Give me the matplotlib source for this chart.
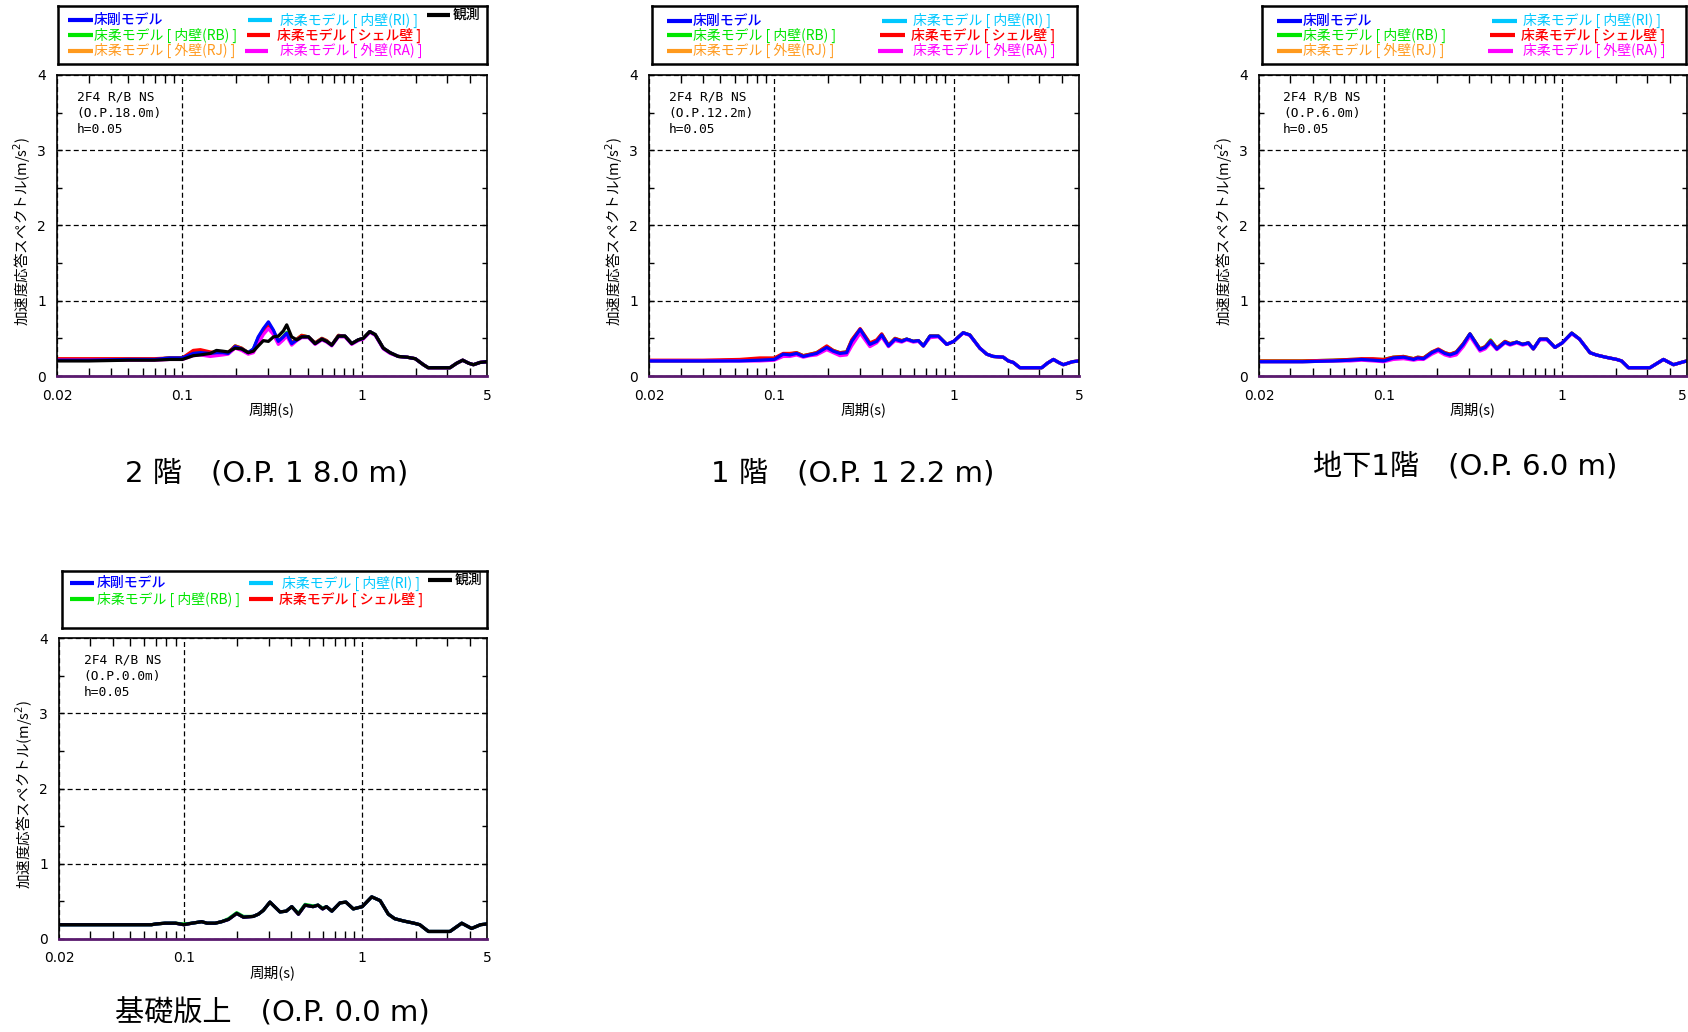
import matplotlib.pyplot as plt
from matplotlib.ticker import FixedLocator, NullFormatter

plt.rcParams['font.family'] = ['Noto Sans CJK JP', 'DejaVu Sans']

BLUE = '#0000ff'
CYAN = '#00c8ff'
GREEN = '#00e600'
RED = '#ff0000'
ORANGE = '#ff9a1e'
MAGENTA = '#ff00ff'
BLACK = '#000000'

# ---- 2F (O.P.18.0m) ----
T1 = [0.02, 0.03, 0.05, 0.07, 0.085, 0.1, 0.115, 0.126, 0.143, 0.155,
      0.168, 0.18, 0.197, 0.214, 0.233, 0.249, 0.265, 0.283, 0.302, 0.322,
      0.343, 0.366, 0.382, 0.407, 0.435, 0.463, 0.505, 0.55, 0.6, 0.638,
      0.681, 0.742, 0.807, 0.88, 0.957, 1.02, 1.11, 1.19, 1.32, 1.44,
      1.6, 1.79, 1.99, 2.07, 2.21, 2.35, 3.11, 3.39, 3.66, 3.95,
      4.2, 4.57, 5.0]
blue1 = [0.21, 0.21, 0.22, 0.22, 0.24, 0.24, 0.30, 0.31, 0.30, 0.31,
         0.31, 0.30, 0.39, 0.36, 0.31, 0.36, 0.52, 0.63, 0.72, 0.61,
         0.46, 0.52, 0.57, 0.43, 0.48, 0.52, 0.52, 0.43, 0.49, 0.46,
         0.41, 0.53, 0.53, 0.43, 0.48, 0.50, 0.59, 0.55, 0.37, 0.31,
         0.26, 0.25, 0.23, 0.20, 0.15, 0.11, 0.11, 0.17, 0.21, 0.17,
         0.15, 0.18, 0.19]
cyan1 = [0.21, 0.21, 0.22, 0.22, 0.24, 0.24, 0.30, 0.31, 0.30, 0.31,
         0.31, 0.30, 0.39, 0.36, 0.31, 0.36, 0.51, 0.62, 0.70, 0.60,
         0.46, 0.52, 0.57, 0.43, 0.48, 0.52, 0.52, 0.43, 0.49, 0.46,
         0.41, 0.53, 0.53, 0.43, 0.48, 0.50, 0.59, 0.55, 0.37, 0.31,
         0.26, 0.25, 0.23, 0.20, 0.15, 0.11, 0.11, 0.17, 0.21, 0.17,
         0.15, 0.18, 0.19]
green1 = [0.22, 0.22, 0.22, 0.22, 0.24, 0.24, 0.31, 0.33, 0.31, 0.31,
          0.31, 0.31, 0.40, 0.37, 0.31, 0.35, 0.50, 0.61, 0.67, 0.59,
          0.46, 0.53, 0.58, 0.44, 0.49, 0.54, 0.52, 0.44, 0.50, 0.47,
          0.41, 0.54, 0.53, 0.43, 0.48, 0.50, 0.59, 0.55, 0.37, 0.31,
          0.26, 0.25, 0.23, 0.20, 0.15, 0.11, 0.11, 0.17, 0.21, 0.17,
          0.15, 0.18, 0.19]
red1 = [0.23, 0.23, 0.23, 0.23, 0.24, 0.24, 0.34, 0.35, 0.32, 0.31,
        0.31, 0.31, 0.40, 0.37, 0.31, 0.35, 0.49, 0.60, 0.68, 0.59,
        0.46, 0.52, 0.56, 0.44, 0.49, 0.54, 0.52, 0.44, 0.50, 0.47,
        0.41, 0.54, 0.53, 0.43, 0.48, 0.50, 0.59, 0.55, 0.37, 0.31,
        0.26, 0.25, 0.23, 0.20, 0.15, 0.11, 0.11, 0.17, 0.21, 0.17,
        0.15, 0.18, 0.19]
orange1 = [0.22, 0.22, 0.22, 0.22, 0.24, 0.24, 0.31, 0.32, 0.30, 0.30,
           0.31, 0.30, 0.38, 0.36, 0.31, 0.34, 0.48, 0.60, 0.66, 0.58,
           0.45, 0.52, 0.56, 0.43, 0.48, 0.52, 0.52, 0.43, 0.49, 0.46,
           0.41, 0.53, 0.53, 0.43, 0.48, 0.50, 0.59, 0.55, 0.37, 0.31,
           0.26, 0.25, 0.23, 0.20, 0.15, 0.11, 0.11, 0.17, 0.21, 0.17,
           0.15, 0.18, 0.19]
magenta1 = [0.21, 0.21, 0.21, 0.21, 0.22, 0.22, 0.27, 0.28, 0.26, 0.27,
            0.28, 0.29, 0.37, 0.34, 0.29, 0.31, 0.43, 0.55, 0.63, 0.55,
            0.42, 0.48, 0.53, 0.41, 0.47, 0.51, 0.51, 0.42, 0.48, 0.45,
            0.40, 0.52, 0.52, 0.42, 0.47, 0.49, 0.58, 0.54, 0.36, 0.30,
            0.26, 0.25, 0.23, 0.20, 0.15, 0.11, 0.11, 0.17, 0.21, 0.17,
            0.15, 0.18, 0.19]
obs1 = [0.20, 0.20, 0.21, 0.21, 0.22, 0.22, 0.27, 0.28, 0.30, 0.34,
        0.33, 0.32, 0.37, 0.36, 0.31, 0.33, 0.40, 0.47, 0.46, 0.52,
        0.53, 0.60, 0.68, 0.52, 0.48, 0.52, 0.52, 0.43, 0.49, 0.46,
        0.41, 0.53, 0.53, 0.43, 0.48, 0.50, 0.59, 0.55, 0.37, 0.31,
        0.26, 0.25, 0.23, 0.20, 0.15, 0.11, 0.11, 0.17, 0.21, 0.17,
        0.15, 0.18, 0.19]

# ---- 1F (O.P.12.2m) ----
T2 = [0.02, 0.04, 0.064, 0.083, 0.1, 0.112, 0.122, 0.133, 0.145, 0.158,
      0.172, 0.196, 0.213, 0.232, 0.253, 0.27, 0.301, 0.341, 0.372, 0.397,
      0.433, 0.471, 0.513, 0.547, 0.596, 0.636, 0.678, 0.738, 0.822, 0.915,
      1.0, 1.13, 1.23, 1.4, 1.53, 1.66, 1.89, 2.02, 2.15, 2.34,
      3.1, 3.33, 3.6, 3.85, 4.09, 4.6, 5.0]
blue2 = [0.20, 0.20, 0.20, 0.21, 0.22, 0.29, 0.28, 0.30, 0.26, 0.28,
         0.30, 0.38, 0.33, 0.30, 0.31, 0.46, 0.62, 0.42, 0.46, 0.545,
         0.40, 0.49, 0.46, 0.49, 0.46, 0.47, 0.40, 0.53, 0.53, 0.42,
         0.46, 0.575, 0.545, 0.37, 0.29, 0.26, 0.25, 0.20, 0.18, 0.11,
         0.11, 0.17, 0.22, 0.18, 0.15, 0.19, 0.20]
cyan2 = [0.20, 0.20, 0.21, 0.22, 0.22, 0.29, 0.28, 0.30, 0.26, 0.28,
         0.30, 0.38, 0.33, 0.30, 0.31, 0.46, 0.61, 0.42, 0.46, 0.545,
         0.40, 0.49, 0.46, 0.49, 0.46, 0.47, 0.40, 0.53, 0.53, 0.42,
         0.46, 0.575, 0.545, 0.37, 0.29, 0.26, 0.25, 0.20, 0.18, 0.11,
         0.11, 0.17, 0.22, 0.18, 0.15, 0.19, 0.20]
green2 = [0.20, 0.20, 0.21, 0.23, 0.23, 0.29, 0.29, 0.31, 0.27, 0.29,
          0.31, 0.39, 0.34, 0.31, 0.32, 0.47, 0.62, 0.43, 0.47, 0.555,
          0.41, 0.50, 0.47, 0.49, 0.46, 0.47, 0.40, 0.53, 0.53, 0.42,
          0.46, 0.575, 0.545, 0.37, 0.29, 0.26, 0.25, 0.20, 0.18, 0.11,
          0.11, 0.17, 0.22, 0.18, 0.15, 0.19, 0.20]
red2 = [0.21, 0.21, 0.22, 0.24, 0.24, 0.30, 0.30, 0.31, 0.27, 0.29,
        0.31, 0.40, 0.34, 0.31, 0.32, 0.48, 0.63, 0.44, 0.48, 0.56,
        0.41, 0.50, 0.47, 0.49, 0.46, 0.47, 0.40, 0.53, 0.53, 0.42,
        0.46, 0.575, 0.545, 0.37, 0.29, 0.26, 0.25, 0.20, 0.18, 0.11,
        0.11, 0.17, 0.22, 0.18, 0.15, 0.19, 0.20]
orange2 = [0.20, 0.20, 0.21, 0.22, 0.23, 0.29, 0.29, 0.30, 0.27, 0.28,
           0.30, 0.38, 0.33, 0.30, 0.31, 0.45, 0.61, 0.42, 0.46, 0.54,
           0.40, 0.49, 0.46, 0.49, 0.46, 0.47, 0.40, 0.53, 0.53, 0.42,
           0.46, 0.575, 0.545, 0.37, 0.29, 0.26, 0.25, 0.20, 0.18, 0.11,
           0.11, 0.17, 0.22, 0.18, 0.15, 0.19, 0.20]
magenta2 = [0.20, 0.20, 0.20, 0.20, 0.21, 0.26, 0.26, 0.28, 0.25, 0.27,
            0.28, 0.35, 0.31, 0.27, 0.28, 0.40, 0.57, 0.39, 0.44, 0.52,
            0.39, 0.47, 0.45, 0.48, 0.45, 0.46, 0.40, 0.51, 0.52, 0.42,
            0.46, 0.57, 0.54, 0.37, 0.29, 0.26, 0.25, 0.20, 0.18, 0.11,
            0.11, 0.17, 0.22, 0.18, 0.15, 0.19, 0.20]

# ---- B1F (O.P.6.0m) ----
T3 = [0.02, 0.035, 0.052, 0.065, 0.075, 0.087, 0.1, 0.113, 0.129, 0.147,
      0.155, 0.167, 0.186, 0.202, 0.22, 0.235, 0.255, 0.279, 0.304, 0.346,
      0.37, 0.397, 0.43, 0.478, 0.51, 0.556, 0.6, 0.646, 0.689, 0.75,
      0.82, 0.91, 1.0, 1.13, 1.25, 1.43, 1.55, 1.75, 2.02, 2.15,
      2.35, 3.1, 3.69, 4.2, 4.8, 5.0]
blue3 = [0.19, 0.19, 0.20, 0.21, 0.22, 0.21, 0.20, 0.24, 0.25, 0.22,
         0.24, 0.23, 0.31, 0.35, 0.30, 0.28, 0.31, 0.42, 0.56, 0.35,
         0.38, 0.46, 0.36, 0.45, 0.42, 0.45, 0.42, 0.44, 0.36, 0.49,
         0.49, 0.38, 0.44, 0.57, 0.49, 0.31, 0.28, 0.25, 0.22, 0.20,
         0.11, 0.11, 0.22, 0.15, 0.19, 0.20]
cyan3 = [0.19, 0.19, 0.20, 0.21, 0.22, 0.21, 0.21, 0.24, 0.25, 0.22,
         0.24, 0.23, 0.31, 0.35, 0.30, 0.28, 0.31, 0.42, 0.55, 0.35,
         0.38, 0.46, 0.36, 0.45, 0.42, 0.45, 0.42, 0.44, 0.36, 0.49,
         0.49, 0.38, 0.44, 0.57, 0.49, 0.31, 0.28, 0.25, 0.22, 0.20,
         0.11, 0.11, 0.22, 0.15, 0.19, 0.20]
green3 = [0.20, 0.20, 0.21, 0.22, 0.22, 0.22, 0.22, 0.25, 0.26, 0.23,
          0.25, 0.24, 0.32, 0.35, 0.31, 0.29, 0.32, 0.43, 0.56, 0.36,
          0.39, 0.48, 0.37, 0.46, 0.43, 0.45, 0.42, 0.44, 0.36, 0.49,
          0.49, 0.38, 0.44, 0.57, 0.49, 0.31, 0.28, 0.25, 0.22, 0.20,
          0.11, 0.11, 0.22, 0.15, 0.19, 0.20]
red3 = [0.20, 0.20, 0.21, 0.22, 0.23, 0.23, 0.22, 0.25, 0.26, 0.23,
        0.25, 0.24, 0.32, 0.36, 0.31, 0.29, 0.32, 0.43, 0.56, 0.36,
        0.39, 0.47, 0.37, 0.46, 0.43, 0.45, 0.42, 0.44, 0.36, 0.49,
        0.49, 0.38, 0.44, 0.57, 0.49, 0.31, 0.28, 0.25, 0.22, 0.20,
        0.11, 0.11, 0.22, 0.15, 0.19, 0.20]
orange3 = [0.19, 0.19, 0.20, 0.21, 0.22, 0.21, 0.21, 0.24, 0.25, 0.22,
           0.24, 0.23, 0.30, 0.34, 0.30, 0.28, 0.30, 0.41, 0.55, 0.35,
           0.38, 0.46, 0.36, 0.45, 0.42, 0.45, 0.42, 0.44, 0.36, 0.49,
           0.49, 0.38, 0.44, 0.57, 0.49, 0.31, 0.28, 0.25, 0.22, 0.20,
           0.11, 0.11, 0.22, 0.15, 0.19, 0.20]
magenta3 = [0.19, 0.19, 0.20, 0.20, 0.21, 0.20, 0.19, 0.22, 0.23, 0.21,
            0.22, 0.22, 0.29, 0.33, 0.28, 0.26, 0.28, 0.39, 0.53, 0.33,
            0.36, 0.44, 0.35, 0.44, 0.41, 0.44, 0.41, 0.43, 0.36, 0.48,
            0.48, 0.38, 0.44, 0.56, 0.49, 0.31, 0.28, 0.25, 0.22, 0.20,
            0.11, 0.11, 0.22, 0.15, 0.19, 0.20]

# ---- 基礎版上 (O.P.0.0m) ----
T4 = [0.02, 0.04, 0.066, 0.07, 0.0785, 0.09, 0.1, 0.111, 0.126, 0.135,
      0.15, 0.163, 0.178, 0.198, 0.216, 0.245, 0.262, 0.279, 0.304, 0.346,
      0.375, 0.403, 0.439, 0.478, 0.53, 0.565, 0.6, 0.63, 0.676, 0.75,
      0.81, 0.891, 1.0, 1.13, 1.26, 1.4, 1.52, 1.7, 1.95, 2.1,
      2.35, 3.1, 3.61, 4.1, 4.6, 5.0]
obs4 = [0.19, 0.19, 0.19, 0.20, 0.21, 0.21, 0.19, 0.21, 0.23, 0.21,
        0.21, 0.23, 0.26, 0.34, 0.29, 0.30, 0.33, 0.38, 0.49, 0.36,
        0.37, 0.43, 0.33, 0.45, 0.43, 0.45, 0.40, 0.43, 0.37, 0.48,
        0.49, 0.40, 0.43, 0.56, 0.51, 0.33, 0.27, 0.24, 0.21, 0.19,
        0.10, 0.10, 0.21, 0.14, 0.19, 0.20]
green4 = [0.19, 0.19, 0.19, 0.20, 0.21, 0.21, 0.20, 0.21, 0.23, 0.21,
          0.21, 0.23, 0.27, 0.35, 0.30, 0.30, 0.33, 0.38, 0.49, 0.36,
          0.37, 0.43, 0.34, 0.46, 0.44, 0.45, 0.41, 0.43, 0.37, 0.48,
          0.49, 0.40, 0.43, 0.56, 0.51, 0.33, 0.27, 0.24, 0.21, 0.19,
          0.10, 0.10, 0.21, 0.14, 0.19, 0.20]
# blue / cyan / red lie under the observed line
blue4 = obs4
cyan4 = obs4
red4 = obs4

LBL_RIGID = '床剛モデル'
LBL_RB = '床柔モデル [ 内壁(RB) ]'
LBL_RJ = '床柔モデル [ 外壁(RJ) ]'
LBL_RI = '床柔モデル [ 内壁(RI) ]'
LBL_SHELL = '床柔モデル [ シェル壁 ]'
LBL_RA = '床柔モデル [ 外壁(RA) ]'
LBL_OBS = '観測'

minor_x = [0.03, 0.04, 0.05, 0.06, 0.07, 0.08, 0.09,
           0.2, 0.3, 0.4, 0.5, 0.6, 0.7, 0.8, 0.9, 2, 3, 4]

W, H = 1688, 1032
fig = plt.figure(figsize=(W / 100, H / 100), dpi=100)


def px_axes(x0, y0, x1, y1):
    return fig.add_axes([x0 / W, 1 - y1 / H, (x1 - x0) / W, (y1 - y0) / H])


def draw_panel(box, T, series, note, note_x, clip_last=False):
    ax = px_axes(*box)
    for vals, col in series:
        ax.plot(T, vals, color=col, lw=2.3, solid_joinstyle='round')
    ax.set_xscale('log')
    ax.set_xlim(0.02, 5)
    ax.set_ylim(0, 4)
    ax.set_xticks([0.02, 0.1, 1, 5])
    ax.set_xticklabels(['0.02', '0.1', '1', '5'])
    ax.xaxis.set_minor_locator(FixedLocator(minor_x))
    ax.xaxis.set_minor_formatter(NullFormatter())
    ax.set_yticks([0, 1, 2, 3, 4])
    ax.yaxis.set_minor_locator(FixedLocator([0.5, 1.5, 2.5, 3.5]))
    ax.tick_params(which='both', direction='in', top=True, right=True,
                   labelsize=10, labelfontfamily='DejaVu Sans', width=1)
    ax.tick_params(axis='x', which='major', length=0, pad=9)
    ax.tick_params(axis='x', which='minor', length=5.5)
    ax.tick_params(axis='y', which='both', length=3.6, pad=8)
    if clip_last:
        ax.get_xticklabels()[-1].set_ha('right')
    ax.grid(True, which='major', color='black', ls=(0, (4, 2.5)), lw=0.9)
    for s in ax.spines.values():
        s.set_linewidth(1.2)
    ax.spines['bottom'].set_color('#5a1a6e')
    ax.spines['bottom'].set_linewidth(2)
    ax.set_xlabel('周期(s)', fontsize=10.5, labelpad=0)
    ax.set_ylabel('加速度応答スペクトル(m/s$^2$)', fontsize=10.5, va='center')
    ax.yaxis.set_label_coords(-0.081, 0.48)
    ax.text(note_x, 0.947, note, transform=ax.transAxes, va='top',
            family='DejaVu Sans Mono', fontsize=9.3, linespacing=1.3)
    return ax


def draw_legend(box, entries):
    x0, y0, x1, y1 = box
    lg = px_axes(x0, y0, x1, y1)
    lg.set_xlim(0, x1 - x0)
    lg.set_ylim(y1 - y0, 0)
    lg.set_xticks([])
    lg.set_yticks([])
    for s in lg.spines.values():
        s.set_linewidth(1.8)
    for lx0, lx1, ty, tx, label, col, bold in entries:
        lg.plot([lx0, lx1], [ty, ty], color=col, lw=3, solid_capstyle='butt')
        lg.text(tx, ty, label, color=col, fontsize=10, va='center',
                ha='left', weight='medium' if bold else 'normal')


s1 = [(cyan1, CYAN), (orange1, ORANGE), (green1, GREEN), (red1, RED),
      (magenta1, MAGENTA), (blue1, BLUE), (obs1, BLACK)]
s2 = [(cyan2, CYAN), (orange2, ORANGE), (green2, GREEN), (red2, RED),
      (magenta2, MAGENTA), (blue2, BLUE)]
s3 = [(cyan3, CYAN), (orange3, ORANGE), (green3, GREEN), (red3, RED),
      (magenta3, MAGENTA), (blue3, BLUE)]
s4 = [(cyan4, CYAN), (red4, RED), (green4, GREEN), (blue4, BLUE),
      (obs4, BLACK)]

draw_panel((57, 75, 487, 376), T1, s1,
           '2F4 R/B NS\n(O.P.18.0m)\nh=0.05', 0.046)
draw_panel((649, 75, 1079, 376), T2, s2,
           '2F4 R/B NS\n(O.P.12.2m)\nh=0.05', 0.046)
draw_panel((1259, 75, 1687, 376), T3, s3,
           '2F4 R/B NS\n(O.P.6.0m)\nh=0.05', 0.056, clip_last=True)
draw_panel((59, 638, 487, 939), T4, s4,
           '2F4 R/B NS\n(O.P.0.0m)\nh=0.05', 0.058)

leg_full = [
    (10, 35, 14, 36, LBL_RIGID, BLUE, True),
    (10, 35, 29, 36, LBL_RB, GREEN, False),
    (10, 35, 44.5, 36, LBL_RJ, ORANGE, False),
    (190, 214, 14, 222, LBL_RI, CYAN, False),
    (189, 212, 29, 219, LBL_SHELL, RED, True),
    (187, 210, 44.5, 222, LBL_RA, MAGENTA, False),
    (369, 392, 9, 395, LBL_OBS, BLACK, True),
]
leg_model = [
    (15, 40, 14.5, 41, LBL_RIGID, BLUE, True),
    (15, 40, 29, 41, LBL_RB, GREEN, False),
    (15, 40, 44.5, 41, LBL_RJ, ORANGE, False),
    (230, 255, 14.5, 261, LBL_RI, CYAN, False),
    (228, 253, 29, 259, LBL_SHELL, RED, True),
    (226, 251, 44.5, 261, LBL_RA, MAGENTA, False),
]
leg_base = [
    (8, 32, 12, 35, LBL_RIGID, BLUE, True),
    (8, 32, 28, 35, LBL_RB, GREEN, False),
    (187, 211, 12, 220, LBL_RI, CYAN, False),
    (187, 211, 28, 217, LBL_SHELL, RED, True),
    (366, 390, 9, 393, LBL_OBS, BLACK, True),
]
draw_legend((58, 6, 487, 64), leg_full)
draw_legend((652, 6, 1077, 64), leg_model)
draw_legend((1262, 6, 1686, 64), leg_model)
draw_legend((62, 571, 487, 628), leg_base)

cap_font = ['DejaVu Sans', 'Noto Sans CJK JP']
fig.text(267 / W, 1 - 474 / H, '2 階　(O.P. 1 8.0 m)', ha='center',
         va='center', fontsize=21, family=cap_font)
fig.text(853 / W, 1 - 474 / H, '1 階　(O.P. 1 2.2 m)', ha='center',
         va='center', fontsize=21, family=cap_font)
fig.text(1465 / W, 1 - 466 / H, '地下1階　(O.P. 6.0 m)', ha='center',
         va='center', fontsize=21, family=cap_font)
fig.text(272 / W, 1 - 1013 / H, '基礎版上　(O.P. 0.0 m)', ha='center',
         va='center', fontsize=21, family=cap_font)

fig.savefig('out.png', dpi=100)
